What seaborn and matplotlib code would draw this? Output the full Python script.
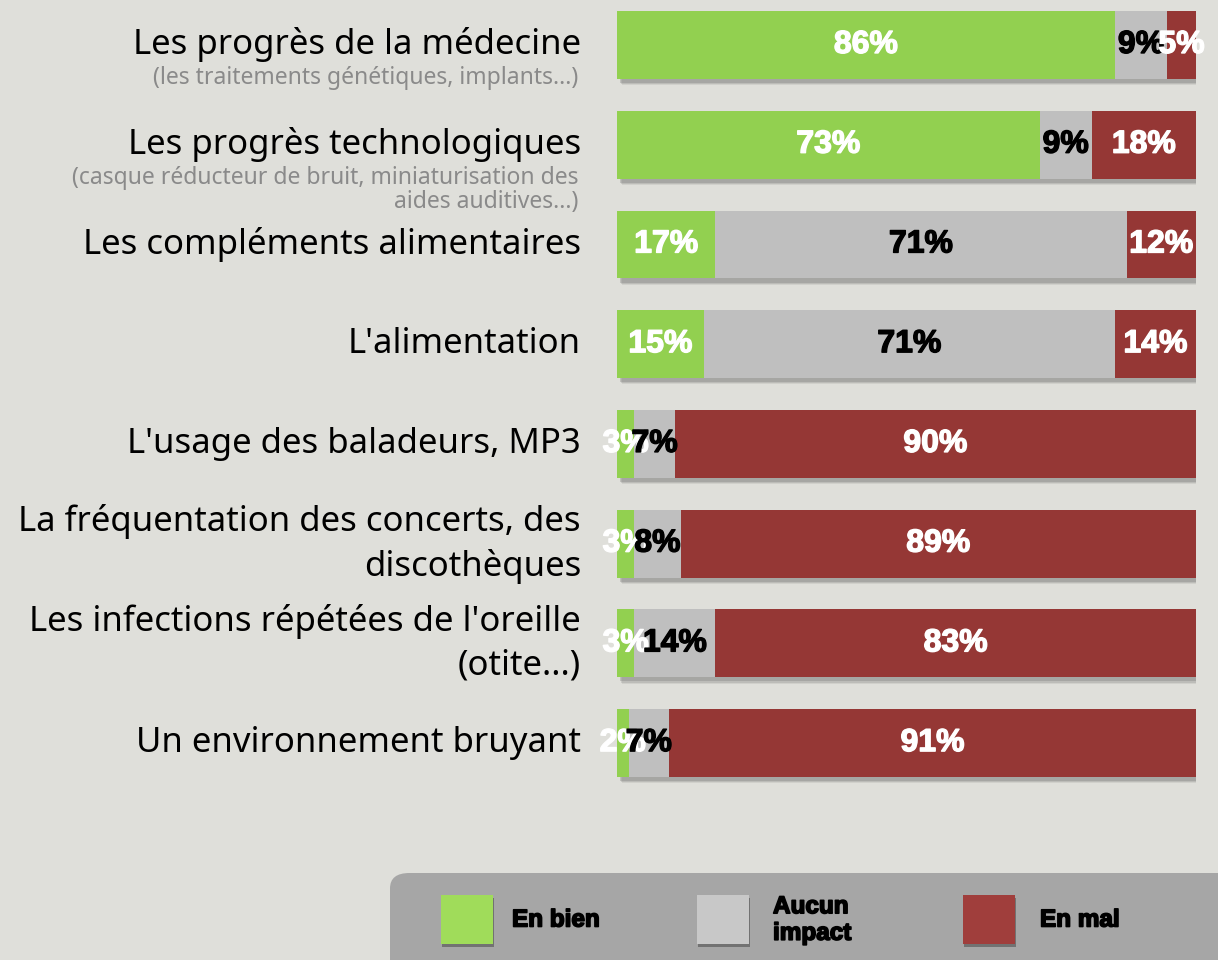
import matplotlib
matplotlib.use("Agg")
import matplotlib.pyplot as plt
import matplotlib.patheffects as pe
import matplotlib.transforms as mtrans
from matplotlib.patches import FancyBboxPatch, Rectangle
import seaborn as sns
import pandas as pd

# ---- data ----
categories = [
    "Les progrès de la médecine",
    "Les progrès technologiques",
    "Les compléments alimentaires",
    "L'alimentation",
    "L'usage des baladeurs, MP3",
    "La fréquentation des concerts, des\ndiscothèques",
    "Les infections répétées de l'oreille\n(otite...)",
    "Un environnement bruyant",
]
subtitles = [
    "(les traitements génétiques, implants...)",
    "(casque réducteur de bruit, miniaturisation des\naides auditives...)",
    "", "", "", "", "", "",
]
en_bien = [86, 73, 17, 15, 3, 3, 3, 2]
aucun_impact = [9, 9, 71, 71, 7, 8, 14, 7]
en_mal = [5, 18, 12, 14, 90, 89, 83, 91]
legend_labels = ["En bien", "Aucun\nimpact", "En mal"]

GREEN = "#92d050"
GRAY = "#bfbfbf"
RED = "#953735"
BG = "#dfdfda"

sns.set_theme(style="white")
plt.rcParams["font.family"] = ["Noto Sans", "DejaVu Sans"]

W, H = 1218, 960
fig = plt.figure(figsize=(W / 100, H / 100), dpi=100, facecolor=BG)

ax_left, ax_right = 617, 1196
ax_top_px, ax_bot_px = 0, 793
ax = fig.add_axes([ax_left / W, 1 - ax_bot_px / H, (ax_right - ax_left) / W, (ax_bot_px - ax_top_px) / H])
ax.set_facecolor(BG)

df = pd.DataFrame({
    "cat": [f"c{i}" for i in range(len(categories))],
    "bien": en_bien,
    "aucun": aucun_impact,
    "mal": en_mal,
})
df["cum2"] = df["bien"] + df["aucun"]
df["cum3"] = df["cum2"] + df["mal"]

shadow = [
    pe.SimplePatchShadow(offset=(3.5, -4.5), shadow_rgbFace="#666666", alpha=0.12),
    pe.SimplePatchShadow(offset=(3, -3.8), shadow_rgbFace="#666666", alpha=0.18),
    pe.SimplePatchShadow(offset=(2.5, -3), shadow_rgbFace="#666666", alpha=0.25),
    pe.Normal(),
]

bw = 0.68
sns.barplot(data=df, x="cum3", y="cat", color=RED, saturation=1, width=bw, ax=ax, orient="h")
n_red = len(ax.patches)
for p in ax.patches[:n_red]:
    p.set_path_effects(shadow)
sns.barplot(data=df, x="cum2", y="cat", color=GRAY, saturation=1, width=bw, ax=ax, orient="h")
sns.barplot(data=df, x="bien", y="cat", color=GREEN, saturation=1, width=bw, ax=ax, orient="h")
for p in ax.patches:
    p.set_linewidth(0)

ax.set_xlim(0, 100)
ax.set_ylim(7.5, -0.451)
ax.axis("off")


def vlabel(x, y, s, color):
    ax.text(x, y, s, ha="center", va="center", fontsize=23, fontweight="bold",
            family=["Liberation Sans", "DejaVu Sans"], color=color,
            path_effects=[pe.withStroke(linewidth=1.0, foreground=color)])


for i in range(len(categories)):
    b, a, m = en_bien[i], aucun_impact[i], en_mal[i]
    vlabel(b / 2, i, f"{b}%", "white")
    vlabel(b + a / 2, i, f"{a}%", "black")
    vlabel(b + a + m / 2, i, f"{m}%", "white")

trans = mtrans.blended_transform_factory(ax.transAxes, ax.transData)
xlab = (581 - 617) / 579
for i, (c, s) in enumerate(zip(categories, subtitles)):
    ax.text(xlab, i, c, ha="right", va="center", fontsize=25, color="black",
            transform=trans, clip_on=False, linespacing=1.38)
    if s:
        ax.text(xlab - 3 / 579, i + 0.215, s, ha="right", va="top", fontsize=16.5, color="#8a8a8a",
                transform=trans, clip_on=False, linespacing=1.0)

# legend box
box = FancyBboxPatch((390 / W, -0.05), 900 / W, (960 - 873) / H + 0.05,
                     boxstyle="round,pad=0,rounding_size=0.016", transform=fig.transFigure,
                     facecolor="#a6a6a6", edgecolor="none", zorder=1)
fig.patches.append(box)
leg_colors = ["#a0dc5a", "#c8c8c8", "#a03e3c"]
sq_x = [441, 697, 963]
tx_x = [512, 773, 1040]
for cx, tx, col, lab in zip(sq_x, tx_x, leg_colors, legend_labels):
    r = Rectangle((cx / W, 1 - 944 / H), 52 / W, 49 / H, transform=fig.transFigure,
                  facecolor=col, edgecolor="none", zorder=2,
                  path_effects=[pe.SimplePatchShadow(offset=(0.5, -2.5), shadow_rgbFace="#333333", alpha=0.45),
                                pe.Normal()])
    fig.patches.append(r)
    fig.text(tx / W, 1 - 920 / H, lab, ha="left", va="center", fontsize=17.5, fontweight="bold",
             family=["Liberation Sans", "DejaVu Sans"], color="black", linespacing=1.2,
             path_effects=[pe.withStroke(linewidth=1.2, foreground="black")], zorder=3)

fig.savefig("out.png", dpi=100, facecolor=BG)
